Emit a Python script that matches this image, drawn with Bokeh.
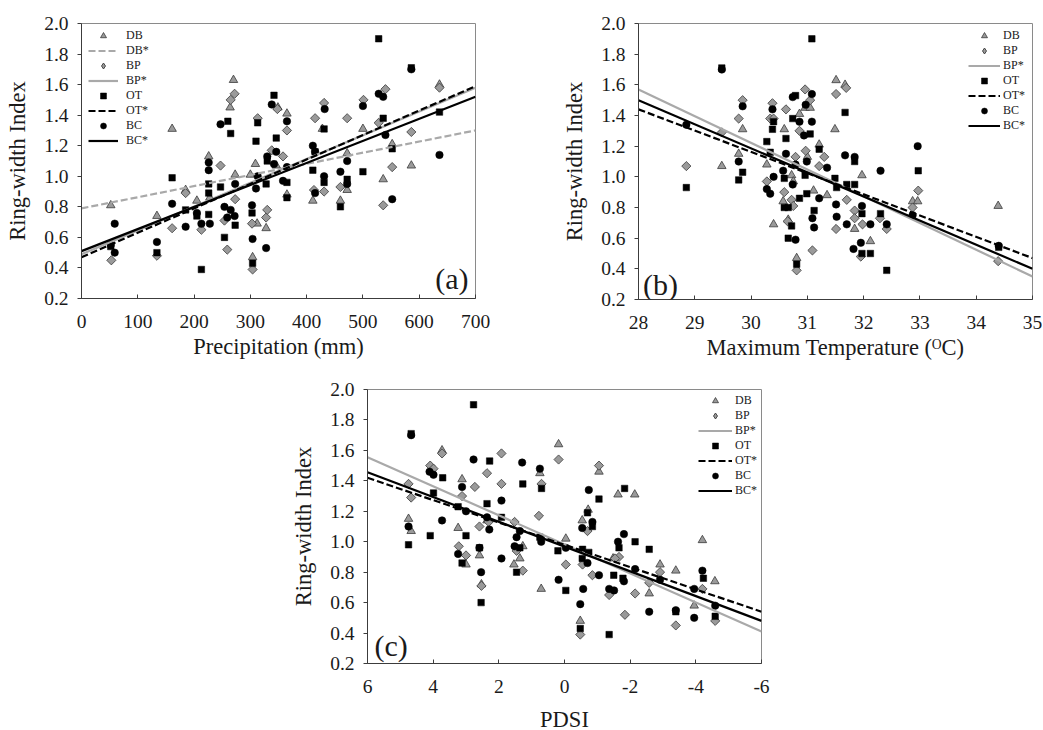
from bokeh.plotting import figure
from bokeh.models import Range1d, FixedTicker, PrintfTickFormatter, Legend, LegendItem, Label, Spacer
from bokeh.layouts import row, column
from bokeh.embed import file_html
from bokeh.resources import INLINE

# ---------------- data ----------------
Y_TICKS = [0.2, 0.4, 0.6, 0.8, 1.0, 1.2, 1.4, 1.6, 1.8, 2.0]

# (a) Precipitation (mm)
A_TICKS = [0, 100, 200, 300, 400, 500, 600, 700]
a_db_x = [52, 134, 161, 185, 205, 226, 228, 270, 264, 273, 300, 304, 309, 312, 328, 349, 346, 365, 365, 411, 428, 460, 472, 472, 500, 536, 552, 586, 636]
a_db_y = [0.81, 0.74, 1.31, 0.91, 0.84, 1.13, 0.86, 1.63, 1.45, 1.01, 1.01, 0.47, 1.08, 0.69, 0.66, 1.45, 1.07, 1.41, 0.88, 0.84, 1.31, 0.84, 1.15, 0.91, 1.31, 0.98, 1.21, 1.07, 1.60]
a_bp_x = [53, 134, 161, 185, 213, 247, 254, 259, 265, 272, 273, 303, 304, 313, 328, 330, 338, 348, 358, 365, 413, 415, 431, 431, 460, 472, 501, 528, 536, 540, 552, 586, 636]
a_bp_y = [0.45, 0.48, 0.66, 0.89, 0.65, 1.07, 0.71, 0.52, 1.50, 1.54, 0.85, 0.69, 0.39, 1.38, 0.73, 0.78, 1.17, 1.44, 1.13, 1.30, 0.91, 1.38, 1.48, 0.90, 0.93, 1.38, 1.50, 1.35, 0.81, 1.57, 1.06, 1.29, 1.58]
a_ot_x = [52, 134, 161, 185, 205, 213, 226, 226, 226, 247, 254, 260, 265, 273, 310, 303, 304, 313, 328, 330, 342, 346, 365, 365, 411, 415, 431, 431, 460, 472, 500, 528, 536, 552, 586, 636]
a_ot_y = [0.54, 0.50, 0.99, 0.78, 0.74, 0.39, 0.95, 0.89, 0.75, 0.93, 0.60, 1.36, 1.28, 0.68, 1.23, 0.76, 0.43, 1.35, 0.95, 1.10, 1.53, 1.25, 0.96, 0.86, 1.04, 1.16, 1.31, 0.96, 0.80, 0.98, 1.03, 1.90, 1.38, 1.18, 1.71, 1.42]
a_bc_x = [59, 59, 52, 134, 161, 185, 205, 213, 226, 226, 228, 247, 254, 259, 265, 272, 273, 303, 304, 310, 313, 328, 330, 338, 342, 346, 358, 365, 365, 411, 415, 415, 431, 432, 460, 472, 472, 500, 528, 536, 540, 552, 586, 636]
a_bc_y = [0.69, 0.50, 0.55, 0.57, 0.82, 0.67, 0.76, 0.69, 1.04, 1.09, 0.69, 1.34, 0.80, 0.73, 0.78, 0.74, 0.95, 0.81, 0.59, 0.92, 1.00, 0.53, 1.13, 1.47, 1.08, 1.16, 0.97, 1.06, 1.36, 1.20, 0.89, 1.16, 1.00, 1.44, 1.03, 1.10, 0.95, 1.46, 1.54, 1.52, 1.27, 0.85, 1.70, 1.14]
a_fit_x = [0, 700]
a_db_fit = [0.79, 1.30]
a_bp_fit = [0.49, 1.58]
a_ot_fit = [0.47, 1.59]
a_bc_fit = [0.51, 1.52]

# (b) Maximum temperature
B_TICKS = [28, 29, 30, 31, 32, 33, 34, 35]
b_db_x = [29.48, 29.78, 29.85, 30.28, 30.40, 30.59, 30.57, 30.66, 30.72, 30.75, 30.81, 30.86, 30.96, 31.05, 31.00, 31.11, 31.21, 31.35, 31.49, 31.51, 31.67, 31.84, 31.97, 32.12, 32.87, 32.96, 34.39]
b_db_y = [1.07, 1.15, 1.31, 1.08, 0.69, 1.31, 0.84, 0.72, 1.01, 0.97, 0.47, 1.41, 1.45, 1.45, 1.13, 0.91, 1.21, 0.88, 1.31, 1.63, 1.60, 0.66, 1.01, 0.58, 0.84, 0.84, 0.81]
b_bp_x = [28.85, 29.48, 29.78, 29.85, 30.28, 30.34, 30.38, 30.40, 30.62, 30.59, 30.65, 30.72, 30.75, 30.79, 30.81, 30.86, 30.96, 30.97, 31.05, 31.09, 31.21, 31.30, 31.51, 31.51, 31.69, 31.70, 31.84, 31.84, 31.95, 31.98, 32.29, 32.41, 32.87, 32.97, 34.39]
b_bp_y = [1.07, 1.29, 1.38, 1.50, 0.97, 1.38, 1.48, 1.38, 1.44, 0.90, 0.71, 0.85, 0.81, 1.13, 0.39, 1.30, 1.57, 1.17, 1.50, 0.52, 1.07, 1.13, 0.66, 1.54, 1.58, 0.85, 0.78, 0.73, 0.48, 0.69, 0.73, 0.66, 0.80, 0.91, 0.45]
b_ot_x = [28.85, 29.48, 29.78, 29.85, 30.28, 30.34, 30.38, 30.40, 30.59, 30.59, 30.62, 30.66, 30.66, 30.72, 30.74, 30.79, 30.81, 30.86, 30.96, 30.99, 31.05, 31.08, 31.12, 31.21, 31.49, 31.52, 31.67, 31.70, 31.84, 31.84, 31.97, 31.97, 32.12, 32.30, 32.41, 32.97, 34.40]
b_ot_y = [0.93, 1.71, 0.98, 1.03, 1.23, 1.16, 1.31, 1.36, 0.99, 0.80, 1.25, 0.80, 0.60, 0.68, 1.38, 1.53, 0.43, 0.86, 1.01, 0.89, 1.28, 1.90, 0.78, 1.18, 0.99, 0.93, 1.42, 0.95, 0.95, 1.10, 0.76, 0.50, 0.50, 0.76, 0.39, 1.04, 0.54]
b_bc_x = [28.85, 29.48, 29.78, 29.85, 30.28, 30.34, 30.38, 30.40, 30.57, 30.62, 30.74, 30.74, 30.79, 30.79, 30.86, 30.94, 30.97, 30.99, 31.08, 31.08, 31.09, 31.12, 31.21, 31.35, 31.51, 31.52, 31.67, 31.70, 31.82, 31.84, 31.97, 31.95, 32.12, 32.30, 32.41, 32.87, 32.96, 34.40]
b_bc_y = [1.34, 1.70, 1.10, 1.46, 0.92, 0.89, 1.44, 1.00, 1.04, 1.15, 0.95, 1.52, 0.59, 1.08, 1.36, 1.27, 1.47, 1.10, 1.54, 1.36, 0.73, 0.67, 0.86, 1.06, 0.82, 0.74, 1.14, 0.69, 0.53, 1.13, 0.81, 0.57, 0.69, 1.04, 0.69, 0.75, 1.20, 0.55]
b_fit_x = [28, 35]
b_bp_fit = [1.57, 0.35]
b_ot_fit = [1.44, 0.47]
b_bc_fit = [1.50, 0.40]

# (c) PDSI
C_TICKS = [6, 4, 2, 0, -2, -4, -6]
c_db_x = [4.75, 4.67, 3.73, 3.24, 3.12, 3.00, 2.59, 2.53, 2.36, 1.54, 1.36, 1.27, 0.75, 0.71, 0.18, -0.04, -0.48, -0.54, -0.72, -1.05, -1.48, -1.63, -2.14, -2.58, -2.91, -3.39, -3.95, -4.20, -4.58]
c_db_y = [1.15, 1.07, 1.60, 1.09, 1.41, 0.85, 0.91, 0.72, 1.14, 0.85, 0.89, 0.97, 1.45, 0.69, 1.64, 1.02, 0.48, 1.14, 1.21, 1.46, 0.89, 1.31, 1.31, 0.66, 0.85, 0.81, 0.58, 1.01, 0.74]
c_bp_x = [4.75, 4.67, 4.09, 3.99, 3.73, 3.22, 3.12, 3.00, 2.73, 2.59, 2.53, 2.36, 2.31, 1.92, 1.92, 1.52, 1.46, 1.27, 0.78, 0.70, 0.18, -0.04, -0.48, -0.55, -0.70, -0.85, -1.05, -1.36, -1.66, -1.54, -1.84, -2.15, -2.58, -2.91, -3.39, -4.20, -4.59]
c_bp_y = [1.38, 1.29, 1.50, 1.48, 1.58, 0.97, 1.30, 0.91, 1.36, 1.10, 0.71, 1.45, 1.13, 1.58, 1.38, 1.13, 0.94, 0.81, 1.17, 1.38, 1.54, 0.85, 0.39, 0.85, 1.07, 0.78, 1.50, 0.65, 0.90, 0.89, 0.52, 0.66, 0.73, 0.80, 0.45, 0.69, 0.48]
c_ot_x = [4.75, 4.67, 4.09, 3.99, 3.71, 3.24, 3.12, 3.00, 2.77, 2.59, 2.54, 2.36, 2.28, 1.92, 1.46, 1.36, 1.27, 0.70, 0.75, 0.20, -0.04, -0.48, -0.54, -0.55, -0.70, -0.74, -0.85, -1.05, -1.36, -1.50, -1.66, -1.78, -1.83, -2.15, -2.58, -3.39, -4.23, -4.59]
c_ot_y = [0.98, 1.71, 1.04, 1.32, 1.42, 1.23, 0.86, 1.04, 1.90, 0.96, 0.60, 1.25, 1.53, 1.16, 0.80, 0.96, 1.38, 1.35, 1.03, 0.94, 0.68, 0.43, 0.89, 0.95, 1.19, 0.93, 1.10, 1.28, 0.39, 0.78, 0.96, 0.76, 1.35, 1.00, 0.95, 0.54, 0.76, 0.51]
c_bc_x = [4.75, 4.67, 4.11, 3.99, 3.73, 3.24, 3.12, 3.00, 2.77, 2.59, 2.54, 2.36, 2.29, 1.92, 1.92, 1.52, 1.46, 1.36, 1.29, 0.75, 0.71, 0.18, -0.04, -0.48, -0.54, -0.57, -0.70, -0.74, -0.85, -1.05, -1.36, -1.51, -1.63, -1.81, -1.81, -2.15, -2.58, -2.91, -3.39, -3.95, -3.95, -4.20, -4.59]
c_bc_y = [1.10, 1.70, 1.46, 1.44, 1.14, 0.92, 1.36, 1.20, 1.54, 0.96, 0.80, 1.16, 1.08, 1.27, 0.89, 0.97, 1.03, 1.07, 1.52, 1.48, 1.00, 0.75, 0.96, 0.59, 1.09, 0.69, 0.86, 1.34, 1.13, 0.78, 0.69, 0.68, 1.00, 0.74, 1.05, 0.82, 0.54, 0.75, 0.55, 0.50, 0.69, 0.81, 0.58]
c_fit_x = [6, -6]
c_bp_fit = [1.555, 0.41]
c_ot_fit = [1.42, 0.54]
c_bc_fit = [1.456, 0.48]

# ---------------- style ----------------
SERIF = "Liberation Serif"
GREY_FILL = "#9a9a9a"
MARK_EDGE = "#3a3a3a"
FIT_GREY = "#a9a9a9"
AXIS_COL = "#3c3c3c"
TXT = "#1a1a1a"


def make_fig(x_range, xticks, xlabel, frame_h, bl, br, bt, bb, xlab_standoff):
    p = figure(x_range=x_range, y_range=Range1d(0.2, 2.0),
               frame_width=394, frame_height=frame_h,
               min_border_left=bl, min_border_right=br,
               min_border_top=bt, min_border_bottom=bb,
               output_backend="svg", toolbar_location=None,
               background_fill_color="white", border_fill_color="white")
    p.xgrid.visible = False
    p.ygrid.visible = False
    p.outline_line_color = "#8a8a8a"
    p.outline_line_width = 1
    for ax in (p.xaxis[0], p.yaxis[0]):
        ax.axis_line_color = AXIS_COL
        ax.major_tick_line_color = AXIS_COL
        ax.minor_tick_line_color = None
        ax.major_label_text_font = SERIF
        ax.major_label_text_font_size = "19.5px"
        ax.major_label_text_color = TXT
        ax.axis_label_text_font = SERIF
        ax.axis_label_text_font_size = "22.5px"
        ax.axis_label_text_font_style = "normal"
        ax.axis_label_text_color = TXT
    p.xaxis.major_tick_in = 4
    p.xaxis.major_tick_out = 0
    p.xaxis.major_label_standoff = 16
    p.xaxis.axis_label_standoff = xlab_standoff
    p.yaxis.major_tick_in = 0
    p.yaxis.major_tick_out = 4
    p.yaxis.major_label_standoff = 9
    p.yaxis.axis_label_standoff = 11
    p.xaxis.ticker = FixedTicker(ticks=xticks)
    p.xaxis.formatter = PrintfTickFormatter(format="%d")
    p.yaxis.ticker = FixedTicker(ticks=Y_TICKS)
    p.yaxis.formatter = PrintfTickFormatter(format="%.1f")
    p.xaxis.axis_label = xlabel
    p.yaxis.axis_label = "Ring-width Index"
    return p


def points(p, db, bp, ot, bc):
    # BP key glyph (legend keys are never rotated); hidden under the rotated squares
    r_bp_key = p.scatter(bp[0], bp[1], marker="diamond", size=1, fill_color=GREY_FILL,
                         line_color=MARK_EDGE, line_width=0.9)
    r_db = p.scatter(db[0], db[1], marker="triangle", size=8.5, fill_color=GREY_FILL,
                     line_color=MARK_EDGE, line_width=0.8)
    p.scatter(bp[0], bp[1], marker="square", angle=0.785398, size=6.5, fill_color=GREY_FILL,
              line_color=MARK_EDGE, line_width=0.8)
    r_ot = p.scatter(ot[0], ot[1], marker="square", size=6.5, fill_color="black",
                     line_color="black", line_width=0.5)
    r_bc = p.scatter(bc[0], bc[1], marker="circle", size=7.5, fill_color="black",
                     line_color="black", line_width=0.5)
    return r_db, r_bp_key, r_ot, r_bc


def fit(p, x, y, color, dash):
    return p.line(x, y, line_color=color, line_width=2.2, line_dash=dash)


def add_legend(p, items, loc, gw, standoff):
    lg = Legend(items=[LegendItem(label=t, renderers=[r]) for t, r in items],
                location=loc, margin=0, padding=0, spacing=0,
                glyph_width=gw, glyph_height=15, label_height=15,
                label_standoff=standoff, label_text_font=SERIF,
                label_text_font_size="12px", label_text_color=TXT,
                background_fill_alpha=0, border_line_color=None)
    p.add_layout(lg, "center")


def panel_label(p, x, y, text):
    p.add_layout(Label(x=x, y=y, text=text, text_font=SERIF, text_font_size="30px",
                       text_color=TXT, text_align="center", text_baseline="middle"))


# ---------------- panel (a) ----------------
pa = make_fig(Range1d(0, 700), A_TICKS, "Precipitation (mm)", 275, 81, 45, 23, 67, 3)
ra = points(pa, (a_db_x, a_db_y), (a_bp_x, a_bp_y), (a_ot_x, a_ot_y), (a_bc_x, a_bc_y))
la_db = fit(pa, a_fit_x, a_db_fit, FIT_GREY, "7 3")
la_bp = fit(pa, a_fit_x, a_bp_fit, FIT_GREY, "solid")
la_ot = fit(pa, a_fit_x, a_ot_fit, "black", "7 3")
la_bc = fit(pa, a_fit_x, a_bc_fit, "black", "solid")
add_legend(pa, [("DB", ra[0]), ("DB*", la_db), ("BP", ra[1]), ("BP*", la_bp),
                ("OT", ra[2]), ("OT*", la_ot), ("BC", ra[3]), ("BC*", la_bc)],
           (7, 150), 30, 8)
panel_label(pa, 658, 0.33, "(a)")

# ---------------- panel (b) ----------------
pb = make_fig(Range1d(28, 35), B_TICKS, "Maximum Temperature (\u1d3cC)", 276, 118, 10, 23, 66, 3)
rb = points(pb, (b_db_x, b_db_y), (b_bp_x, b_bp_y), (b_ot_x, b_ot_y), (b_bc_x, b_bc_y))
lb_bp = fit(pb, b_fit_x, b_bp_fit, FIT_GREY, "solid")
lb_ot = fit(pb, b_fit_x, b_ot_fit, "black", "7 3")
lb_bc = fit(pb, b_fit_x, b_bc_fit, "black", "solid")
add_legend(pb, [("DB", rb[0]), ("BP", rb[1]), ("BP*", lb_bp), ("OT", rb[2]),
                ("OT*", lb_ot), ("BC", rb[3]), ("BC*", lb_bc)],
           (330, 166), 32, 3)
panel_label(pb, 28.39, 0.30, "(b)")

# ---------------- panel (c) ----------------
pc = make_fig(Range1d(6, -6), C_TICKS, "PDSI", 274, 87, 30, 24, 66, 11)
rc = points(pc, (c_db_x, c_db_y), (c_bp_x, c_bp_y), (c_ot_x, c_ot_y), (c_bc_x, c_bc_y))
lc_bp = fit(pc, c_fit_x, c_bp_fit, FIT_GREY, "solid")
lc_ot = fit(pc, c_fit_x, c_ot_fit, "black", "7 3")
lc_bc = fit(pc, c_fit_x, c_bc_fit, "black", "solid")
add_legend(pc, [("DB", rc[0]), ("BP", rc[1]), ("BP*", lc_bp), ("OT", rc[2]),
                ("OT*", lc_ot), ("BC", rc[3]), ("BC*", lc_bc)],
           (331, 165), 34, 3)
panel_label(pc, 5.28, 0.32, "(c)")

layout = column(row(pa, pb), row(Spacer(width=280, height=364), pc))

open("out.html", "w").write(file_html(layout, INLINE))
